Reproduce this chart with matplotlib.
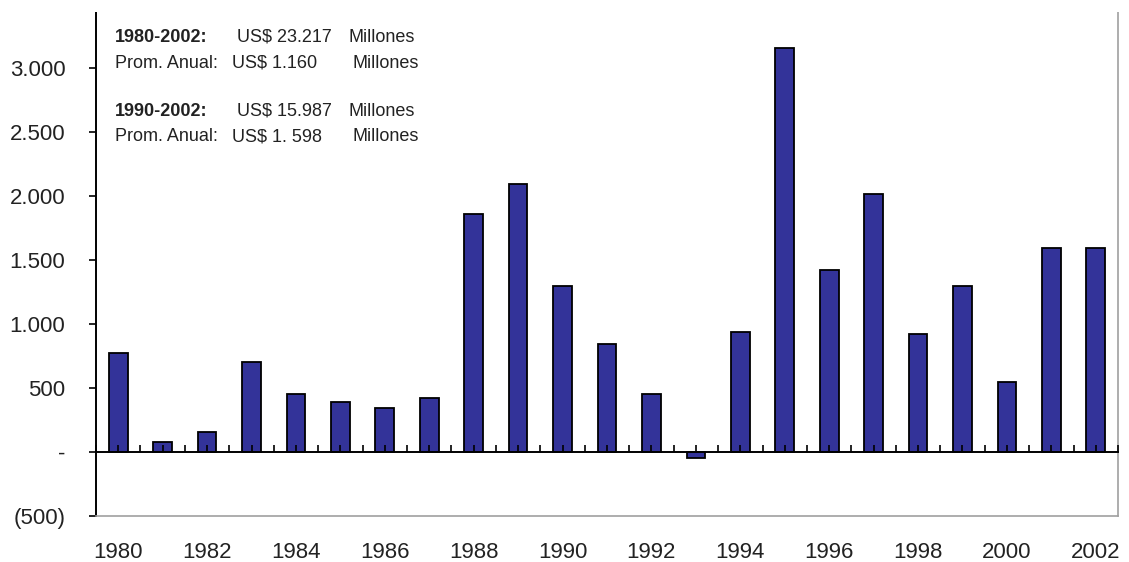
import numpy as np
import matplotlib.pyplot as plt
from matplotlib.patches import Rectangle
from matplotlib.ticker import FuncFormatter, FixedLocator

plt.rcParams['font.family'] = ['Liberation Sans', 'DejaVu Sans']

# Inversion extranjera anual (US$ millones)
years = list(range(1980, 2003))
values = [770, 80, 155, 700, 450, 390, 345, 420, 1860, 2090,
          1300, 840, 450, -45, 938, 3160, 1422, 2016, 922, 1297,
          547, 1594, 1594]
year_labels = [str(y) for y in range(1980, 2003, 2)]

summary_lines = [
    ('1980-2002:', 'US$ 23.217', 'Millones'),
    ('Prom. Anual:', 'US$ 1.160', 'Millones'),
    ('1990-2002:', 'US$ 15.987', 'Millones'),
    ('Prom. Anual:', 'US$ 1. 598', 'Millones'),
]


def miles(v, pos):
    if v == 0:
        return '-'
    s = f'{abs(v):,.0f}'.replace(',', '.')
    return f'({s})' if v < 0 else s


W, H = 1129, 562
fig = plt.figure(figsize=(W / 100, H / 100), dpi=100)
# plot box in pixels: left 96, right 1118, top 4, bottom 516
ax = fig.add_axes([96 / W, 1 - 516 / H, (1118 - 96) / W, (516 - 4) / H])

ax.bar(years, values, width=0.42, color='#333399', edgecolor='black',
       linewidth=1.3, zorder=3)

ax.set_xlim(1979.5, 2002.5)
ax.set_ylim(-500, 3500)

# y axis
ax.yaxis.set_major_locator(FixedLocator(np.arange(-500, 3501, 500)))
ax.yaxis.set_major_formatter(FuncFormatter(miles))
ax.tick_params(axis='y', direction='out', length=5, width=1.2, pad=17,
               labelsize=16, colors='black', labelcolor='#222222')

# year labels along the bottom, no tick marks
ax.set_xticks(range(1980, 2003, 2))
ax.set_xticklabels(year_labels)
ax.tick_params(axis='x', length=0, pad=19, labelsize=16, labelcolor='#222222')

for side in ['top', 'right', 'bottom']:
    ax.spines[side].set_color('#a0a0a0')
    ax.spines[side].set_linewidth(1.2)
ax.spines['left'].set_color('black')
ax.spines['left'].set_linewidth(1.4)

# category axis at zero with tick marks at centres and between bars
zero_frac = 500 / 4000
sec = ax.secondary_xaxis(zero_frac)
sec.set_xticks(np.arange(1979.5, 2002.6, 0.5))
sec.tick_params(direction='in', length=5, width=1.2, labelbottom=False,
                labeltop=False, top=False, bottom=True)
sec.spines['bottom'].set_color('black')
sec.spines['bottom'].set_linewidth(1.4)
sec.spines['top'].set_visible(False)
sec.set_zorder(4)

# summary text block
row_y = [37, 63, 111, 137]
for (a, b, c), y in zip(summary_lines, row_y):
    fy = 1 - y / H
    bold = a[0].isdigit()
    fig.text(115 / W, fy, a, fontsize=13, va='center', color='#222222',
             fontweight='bold' if bold else 'normal')
    fig.text((237 if bold else 232) / W, fy, b, fontsize=13, va='center',
             color='#222222')
    fig.text((348 if bold else 353) / W, fy, c, fontsize=13, va='center',
             color='#222222')

# top strip of the page is blank
fig.add_artist(Rectangle((0, 1 - 12 / H), 1, 12 / H, transform=fig.transFigure,
                         facecolor='white', edgecolor='none', zorder=10))

fig.savefig('out.png', dpi=100)
